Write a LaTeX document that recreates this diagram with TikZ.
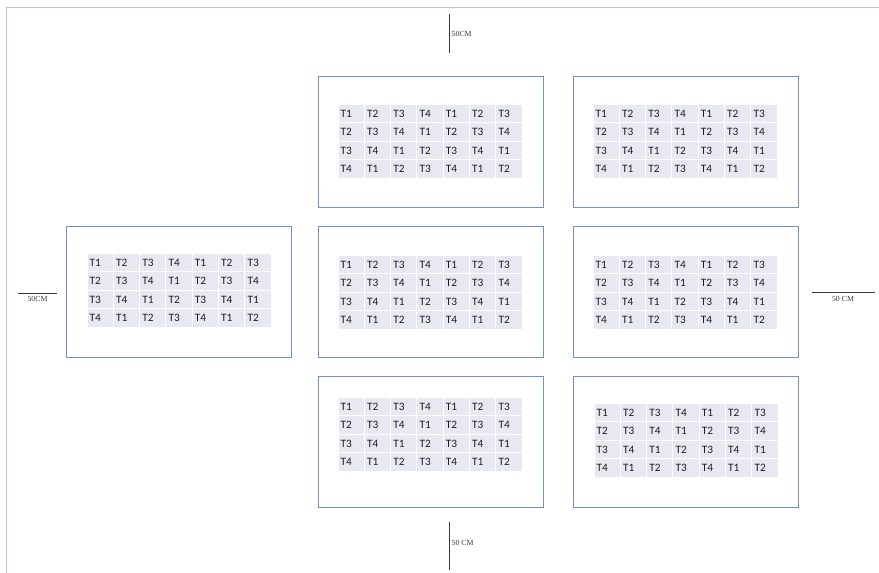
\documentclass[tikz,border=0pt]{standalone}
\usepackage{fontspec}
\setmainfont{Carlito}
\newfontfamily\lblfont{Liberation Serif}
\definecolor{boxblue}{HTML}{7391C8}
\definecolor{framec}{HTML}{B4C3DE}
\definecolor{cellc}{HTML}{E8E8F2}
\definecolor{txtc}{HTML}{1E1E1E}
\definecolor{linec}{HTML}{3A3A3A}
\newcommand{\mytbl}[3]{%
  \foreach \r in {0,...,3}{\foreach \c in {0,...,6}{%
    \pgfmathtruncatemacro\k{mod(\r+\c,4)+1}%
    \fill[cellc] ({#2+\c*26.3+0.5},{#3+\r*18.5+0.5}) rectangle ++(25.3,17.5);
    \node[celltxt] (#1-\r-\c) at ({#2+\c*26.3+2.5},{#3+\r*18.5+9.5}) {T\k};
  }}}
\begin{document}
\begin{tikzpicture}[x=1pt,y=-1pt,
  pbox/.style={draw=boxblue,line width=0.95pt,fill=white,anchor=north west,
    minimum width=225pt,minimum height=131pt,inner sep=0pt,outer sep=0pt},
  celltxt/.style={anchor=west,inner sep=0pt,text=txtc,
    font=\fontsize{11.3}{12}\selectfont},
  dimline/.style={draw=linec,line width=0.9pt},
  lbltxt/.style={inner sep=0pt,text=linec,font=\lblfont\fontsize{7.8}{8}\selectfont}]
\useasboundingbox (0,0) rectangle (879,573);
\fill[white] (0,0) rectangle (879,573);
% outer frame
\coordinate (f1) at (879,7);
\coordinate (f2) at (6,7);
\coordinate (f3) at (6,573);
\draw[framec,line width=1pt] (f1) -- (f2) -- (f3);
% boxes
\node[pbox] (bTM) at (318,76) {};
\node[pbox] (bTR) at (573,76) {};
\node[pbox] (bL) at (66,226) {};
\node[pbox] (bMC) at (318,226) {};
\node[pbox] (bMR) at (573,226) {};
\node[pbox] (bBC) at (318,376) {};
\node[pbox] (bBR) at (573,376) {};
% tables
\mytbl{tTM}{338}{104}
\mytbl{tTR}{593}{104}
\mytbl{tL}{87}{253}
\mytbl{tMC}{338}{255}
\mytbl{tMR}{593}{255}
\mytbl{tBC}{338}{397}
\mytbl{tBR}{594}{403}
% dimension marks
\coordinate (ta) at (449,14);
\coordinate (tb) at (449,53);
\draw[dimline] (ta) -- (tb);
\node[lbltxt,anchor=west] (tlab) at (451.5,34) {50CM};
\coordinate (ba) at (449,522);
\coordinate (bb) at (449,570);
\draw[dimline] (ba) -- (bb);
\node[lbltxt,anchor=west] (blab) at (451.5,543) {50 CM};
\coordinate (la) at (18,293);
\coordinate (lb) at (57,293);
\draw[dimline] (la) -- (lb);
\node[lbltxt] (llab) at (37.5,299) {50CM};
\coordinate (ra) at (812,292);
\coordinate (rb) at (875,292);
\draw[dimline] (ra) -- (rb);
\node[lbltxt] (rlab) at (843,299) {50 CM};
\end{tikzpicture}
\end{document}
